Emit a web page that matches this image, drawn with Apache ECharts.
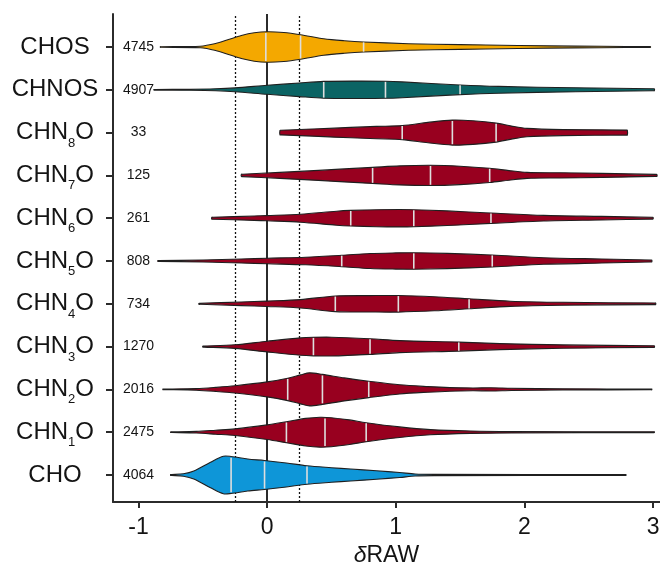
<!DOCTYPE html>
<html>
<head>
<meta charset="utf-8">
<script src="https://cdn.jsdelivr.net/npm/echarts@6/dist/echarts.min.js"></script>
<style>
  html, body { margin: 0; padding: 0; background: #fff; }
  #chart { width: 660px; height: 562px; }
</style>
</head>
<body>
<div id="chart"></div>
<script>
// Formula classes, bottom to top along the y axis
const categories = ['CHO', 'CHN1O', 'CHN2O', 'CHN3O', 'CHN4O', 'CHN5O', 'CHN6O', 'CHN7O', 'CHN8O', 'CHNOS', 'CHOS'];
const categoryLabels = ['CHO', 'CHN{s|1}O', 'CHN{s|2}O', 'CHN{s|3}O', 'CHN{s|4}O', 'CHN{s|5}O', 'CHN{s|6}O', 'CHN{s|7}O', 'CHN{s|8}O', 'CHNOS', 'CHOS'];

// Number of formulas per class
const counts = [4064, 2475, 2016, 1270, 734, 808, 261, 125, 33, 4907, 4745];

// Quartiles of δRAW (Q1, median, Q3) per class
const quartiles = [
  [-0.28, -0.02, 0.31],
  [0.15, 0.45, 0.77],
  [0.16, 0.43, 0.79],
  [0.36, 0.80, 1.49],
  [0.53, 1.02, 1.57],
  [0.58, 1.14, 1.75],
  [0.65, 1.14, 1.74],
  [0.82, 1.27, 1.73],
  [1.05, 1.44, 1.78],
  [0.44, 0.92, 1.50],
  [-0.01, 0.26, 0.75]
];

// Kernel density profiles: [δRAW, half width in category units]
const densityCHO = [[-0.75, 0.012], [-0.65, 0.028], [-0.57, 0.093], [-0.44, 0.299], [-0.34, 0.439], [-0.28, 0.432], [-0.15, 0.374], [-0.02, 0.339], [0.15, 0.280], [0.31, 0.215], [0.50, 0.171], [0.65, 0.140], [0.85, 0.098], [1.03, 0.058], [1.15, 0.023], [1.30, 0.014], [2.79, 0.009]];
const densityCHN1O = [[-0.75, 0.007], [-0.55, 0.019], [-0.40, 0.047], [-0.25, 0.077], [0.00, 0.171], [0.15, 0.245], [0.30, 0.322], [0.41, 0.350], [0.50, 0.339], [0.64, 0.287], [0.77, 0.222], [1.03, 0.124], [1.27, 0.061], [1.58, 0.028], [1.90, 0.016], [3.01, 0.009]];
const densityCHN2O = [[-0.81, 0.007], [-0.55, 0.019], [-0.40, 0.047], [-0.25, 0.084], [0.00, 0.175], [0.16, 0.262], [0.26, 0.339], [0.33, 0.386], [0.43, 0.350], [0.60, 0.269], [0.79, 0.192], [1.03, 0.107], [1.25, 0.065], [1.42, 0.042], [1.60, 0.033], [1.74, 0.037], [1.90, 0.026], [2.30, 0.014], [2.99, 0.009]];
const densityCHN3O = [[-0.50, 0.012], [-0.25, 0.042], [0.00, 0.124], [0.26, 0.203], [0.36, 0.217], [0.50, 0.220], [0.80, 0.182], [1.03, 0.140], [1.49, 0.105], [1.81, 0.070], [2.30, 0.040], [3.01, 0.019]];
const densityCHN4O = [[-0.53, 0.012], [-0.20, 0.042], [0.00, 0.063], [0.26, 0.098], [0.53, 0.182], [0.80, 0.192], [1.02, 0.194], [1.30, 0.164], [1.57, 0.117], [1.89, 0.061], [2.30, 0.035], [3.02, 0.019]];
const densityCHN5O = [[-0.85, 0.009], [-0.50, 0.023], [-0.20, 0.047], [0.00, 0.065], [0.30, 0.089], [0.58, 0.133], [0.80, 0.175], [1.00, 0.189], [1.14, 0.192], [1.40, 0.178], [1.75, 0.140], [2.15, 0.077], [2.60, 0.047], [2.99, 0.023]];
const densityCHN6O = [[-0.43, 0.023], [-0.10, 0.051], [0.00, 0.061], [0.26, 0.093], [0.54, 0.164], [0.65, 0.182], [0.85, 0.199], [1.03, 0.203], [1.14, 0.199], [1.40, 0.171], [1.74, 0.121], [2.15, 0.065], [2.60, 0.042], [3.00, 0.021]];
const densityCHN7O = [[-0.20, 0.028], [0.10, 0.070], [0.40, 0.117], [0.60, 0.152], [0.82, 0.187], [1.03, 0.222], [1.27, 0.236], [1.50, 0.215], [1.73, 0.166], [1.88, 0.112], [2.02, 0.070], [2.28, 0.061], [2.60, 0.047], [3.03, 0.023]];
const densityCHN8O = [[0.10, 0.054], [0.40, 0.089], [0.65, 0.121], [0.85, 0.145], [1.05, 0.164], [1.25, 0.238], [1.44, 0.292], [1.60, 0.276], [1.78, 0.222], [1.90, 0.152], [2.02, 0.098], [2.30, 0.070], [2.80, 0.058]];
const densityCHNOS = [[-0.88, 0.007], [-0.60, 0.012], [-0.40, 0.023], [-0.25, 0.044], [0.00, 0.105], [0.25, 0.159], [0.44, 0.196], [0.70, 0.203], [0.92, 0.199], [1.05, 0.185], [1.50, 0.112], [1.80, 0.079], [2.40, 0.047], [3.01, 0.023]];
const densityCHOS = [[-0.83, 0.007], [-0.52, 0.019], [-0.40, 0.082], [-0.30, 0.175], [-0.20, 0.269], [-0.10, 0.332], [0.00, 0.357], [0.13, 0.339], [0.26, 0.287], [0.44, 0.194], [0.60, 0.147], [0.75, 0.117], [1.10, 0.077], [1.30, 0.063], [1.70, 0.047], [2.20, 0.026], [2.60, 0.016], [2.98, 0.009]];

const densities = [densityCHO, densityCHN1O, densityCHN2O, densityCHN3O, densityCHN4O, densityCHN5O, densityCHN6O, densityCHN7O, densityCHN8O, densityCHNOS, densityCHOS];

// Axis ticks and reference thresholds
const xTicks = [-1, 0, 1, 2, 3];
const thresholds = [-0.25, 0.25];
const countAnchor = -1;

// Fill colour per class group
function fillFor(name) {
  if (name === 'CHOS') return '#F4A800';
  if (name === 'CHNOS') return '#0B6464';
  if (name === 'CHO') return '#0E96D8';
  return '#98001F';
}

function widthAt(profile, x) {
  if (x <= profile[0][0]) return profile[0][1];
  for (let k = 1; k < profile.length; k++) {
    const a = profile[k - 1], b = profile[k];
    if (x <= b[0]) {
      const t = (x - a[0]) / (b[0] - a[0]);
      return a[1] + t * (b[1] - a[1]);
    }
  }
  return profile[profile.length - 1][1];
}

// Pin the outline at both ends so the smoothed shape keeps a flat cut there
function withSquareEnds(profile) {
  const n = profile.length;
  const first = profile[0], last = profile[n - 1];
  const eps = 0.008;
  return [first, [first[0] + eps, first[1]]]
    .concat(profile.slice(1, n - 1))
    .concat([[last[0] - eps, last[1]], last]);
}

const FONT = '"Liberation Sans", Arial, Helvetica, sans-serif';
const INK = '#141414';
const AXIS = '#2b2b2b';

function renderViolin(params, api) {
  const i = params.dataIndex;
  const profile = densities[i];
  const outline = withSquareEnds(profile);
  const top = outline.map(p => api.coord([p[0], i + p[1]]));
  const bottom = outline.slice().reverse().map(p => api.coord([p[0], i - p[1]]));
  const children = [{
    type: 'polygon',
    shape: { points: top.concat(bottom), smooth: 0.3 },
    style: { fill: fillFor(categories[i]), stroke: '#1f1f1f', lineWidth: 1.1 }
  }];
  quartiles[i].forEach(q => {
    const w = widthAt(profile, q) * 0.93;
    const p0 = api.coord([q, i - w]);
    const p1 = api.coord([q, i + w]);
    children.push({
      type: 'line',
      shape: { x1: p0[0], y1: p0[1], x2: p1[0], y2: p1[1] },
      style: { stroke: '#dedede', lineWidth: 1.6 }
    });
  });
  const c = api.coord([countAnchor, i]);
  children.push({
    type: 'text',
    x: c[0], y: c[1],
    style: {
      text: String(counts[i]),
      font: '14px ' + FONT,
      fill: INK,
      align: 'center',
      verticalAlign: 'middle'
    }
  });
  return { type: 'group', children: children };
}

const chart = echarts.init(document.getElementById('chart'), null, { renderer: 'canvas' });

chart.setOption({
  animation: false,
  backgroundColor: '#ffffff',
  grid: { left: 113, right: 0, top: 14, bottom: 60, containLabel: false, outerBoundsMode: 'none' },
  xAxis: {
    type: 'value',
    min: -1.198,
    max: 3.054,
    name: '{i|δ}RAW',
    nameLocation: 'middle',
    nameGap: 38,
    nameTextStyle: {
      fontSize: 23, fontFamily: FONT, color: INK,
      rich: { i: { fontSize: 23, fontFamily: FONT, fontStyle: 'italic', color: INK } }
    },
    axisLine: { show: true, onZero: false, lineStyle: { color: AXIS, width: 2 } },
    axisTick: { show: true, length: 6, customValues: xTicks, lineStyle: { color: AXIS, width: 2 } },
    axisLabel: { customValues: xTicks, fontSize: 23, fontFamily: FONT, color: INK, margin: 14 },
    splitLine: { show: false }
  },
  yAxis: {
    type: 'value',
    min: -0.631,
    max: 10.771,
    axisLine: { show: true, onZero: false, lineStyle: { color: AXIS, width: 2 } },
    axisTick: { show: true, length: 7, customValues: categories.map((c, i) => i), lineStyle: { color: AXIS, width: 2 } },
    axisLabel: {
      customValues: categories.map((c, i) => i),
      formatter: v => categoryLabels[Math.round(v)],
      align: 'center',
      margin: 58,
      fontSize: 24,
      fontFamily: FONT,
      color: INK,
      lineHeight: 34,
      rich: {
        s: { fontSize: 13, fontFamily: FONT, color: INK, lineHeight: 13, verticalAlign: 'bottom' }
      }
    },
    splitLine: { show: false }
  },
  series: [{
    type: 'custom',
    z: 3,
    renderItem: renderViolin,
    data: categories.map((c, i) => [0, i]),
    clip: false,
    markLine: {
      silent: true,
      z: 1,
      symbol: ['none', 'none'],
      label: { show: false },
      emphasis: { disabled: true },
      data: [
        { xAxis: 0, lineStyle: { color: AXIS, width: 2, type: 'solid' } },
        { xAxis: thresholds[0], lineStyle: { color: '#111', width: 1.3, type: [2, 2] } },
        { xAxis: thresholds[1], lineStyle: { color: '#111', width: 1.3, type: [2, 2] } }
      ]
    }
  }]
});
</script>
</body>
</html>
